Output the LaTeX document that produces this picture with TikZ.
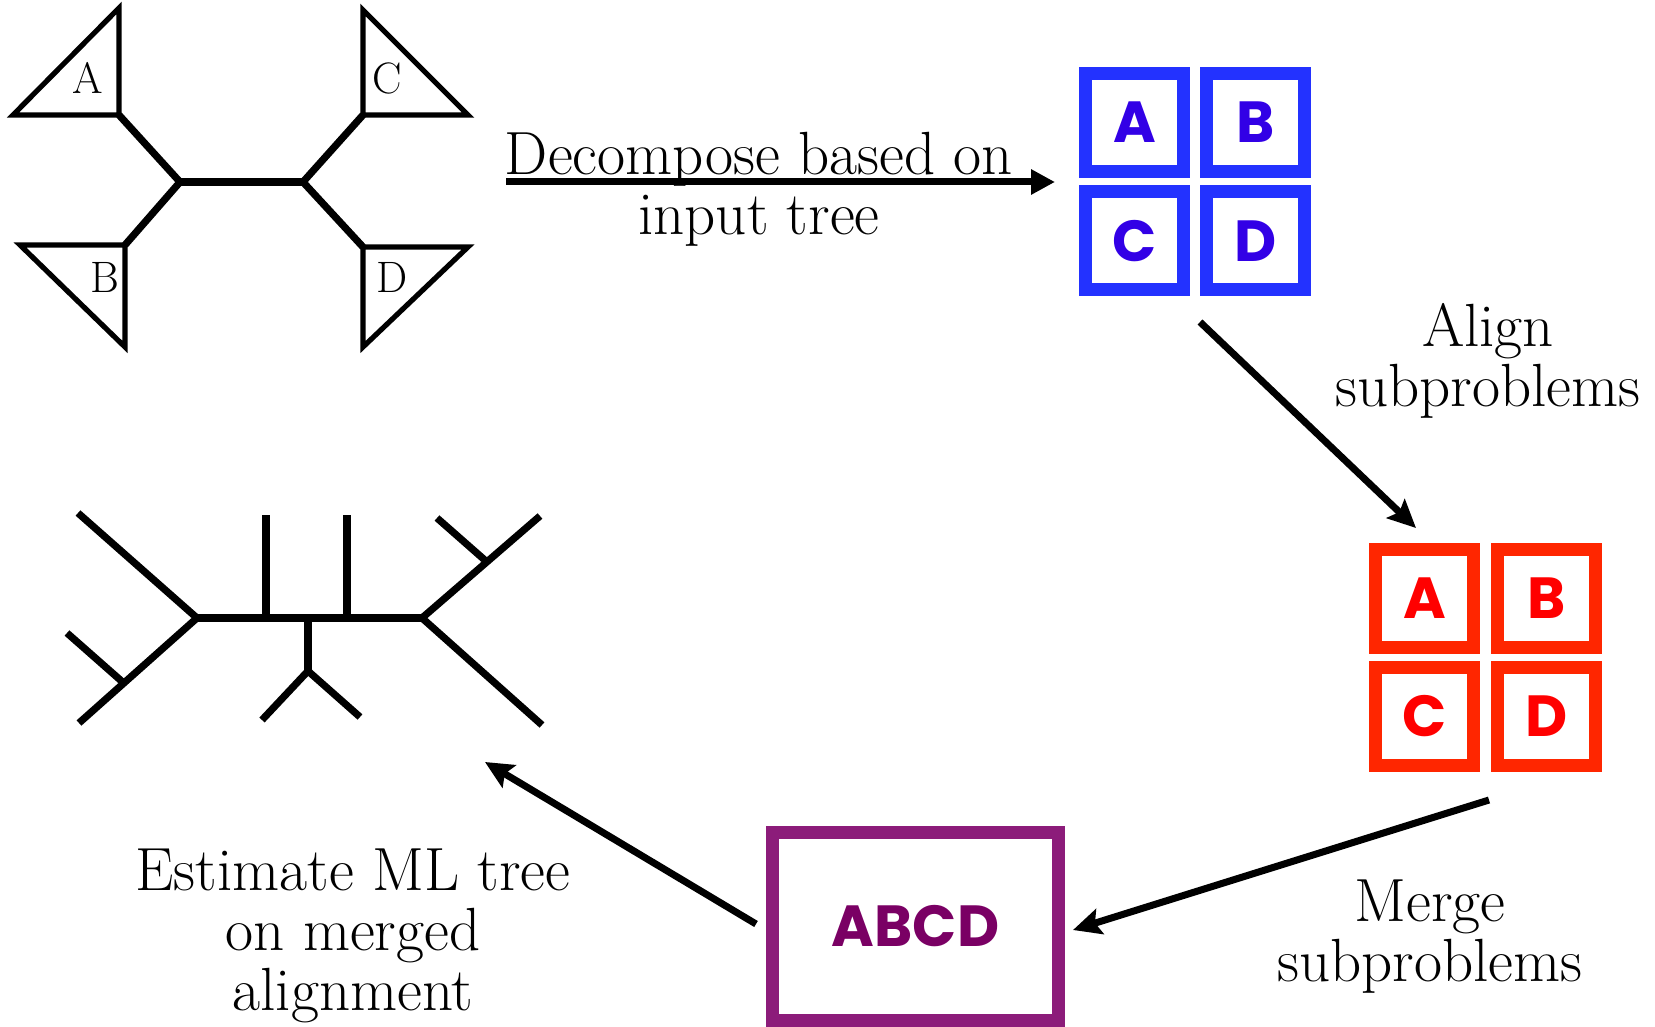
\documentclass[tikz,border=0pt]{standalone}
\usepackage{fontspec}
\newfontfamily\boxfont{Poppins}
\usetikzlibrary{arrows.meta,calc}
\definecolor{bstroke}{RGB}{35,50,255}
\definecolor{btext}{RGB}{50,0,230}
\definecolor{rstroke}{RGB}{255,38,0}
\definecolor{rtext}{RGB}{255,0,0}
\definecolor{pstroke}{RGB}{140,28,122}
\definecolor{ptext}{RGB}{122,0,100}
\tikzset{
  tri/.style={line width=2.6pt, line join=miter},
  branch/.style={line width=3.6pt, line join=miter},
  trilabel/.style={font=\fontsize{22}{22}\selectfont, inner sep=0pt},
  cell/.style={draw, line width=6.5pt, minimum size=49pt, inner sep=0pt, outer sep=0pt,
    font=\boxfont\bfseries\fontsize{29}{29}\selectfont},
  bluecell/.style={cell, draw=bstroke, text=btext},
  redcell/.style={cell, draw=rstroke, text=rtext},
  caption/.style={align=center, anchor=base, inner sep=0pt, font=\fontsize{30.5}{30}\selectfont},
  flow/.style={line width=3.5pt, -{Stealth[length=14pt,width=13pt,inset=2.5pt]}},
}
\begin{document}
\begin{tikzpicture}[x=0.5pt,y=-0.5pt]
\useasboundingbox (0,0) rectangle (1655,1027);
% ---- input tree with subtrees A-D
\draw[tri] (13,115) -- (119,8) -- (119,115) -- cycle;
\draw[tri] (363,10) -- (363,115) -- (468,115) -- cycle;
\draw[tri] (20,245) -- (125,245) -- (125,347) -- cycle;
\draw[tri] (363,247) -- (468,247) -- (363,347) -- cycle;
\coordinate (ta) at (119,115);
\coordinate (tb) at (125,245);
\coordinate (tc) at (363,115);
\coordinate (td) at (363,247);
\coordinate (tl) at (180,182);
\coordinate (tr) at (303,182);
\draw[branch] (ta) -- (tl) -- (tb);
\draw[branch] (tl) -- (tr);
\draw[branch] (tc) -- (tr) -- (td);
\node[trilabel] (la) at (88,78) {A};
\node[trilabel] (lc) at (387,78) {C};
\node[trilabel] (lb) at (105,277) {B};
\node[trilabel] (ld) at (392,277) {D};
% ---- decompose arrow
\coordinate (d1) at (506,182);
\coordinate (d2) at (1055,182);
\draw[line width=3.5pt, -{Triangle[length=12pt,width=12pt]}] (d1) -- (d2);
\node[caption] (tdec) at (759,235) {Decompose based on\\input tree};
% ---- blue subproblems
\node[bluecell] (bA) at (1134.5,122.5) {A};
\node[bluecell] (bB) at (1255.5,122.5) {B};
\node[bluecell] (bC) at (1134.5,241) {C};
\node[bluecell] (bD) at (1255.5,241) {D};
% ---- align arrow
\coordinate (a1) at (1200,322);
\coordinate (a2) at (1416,528);
\draw[flow] (a1) -- (a2);
\node[caption] (tal) at (1488,406) {Align\\subproblems};
% ---- red aligned subproblems
\node[redcell] (rA) at (1424.5,598) {A};
\node[redcell] (rB) at (1546.5,598) {B};
\node[redcell] (rC) at (1424.5,716.5) {C};
\node[redcell] (rD) at (1546.5,716.5) {D};
% ---- merge arrow
\coordinate (m1) at (1489,800);
\coordinate (m2) at (1073,930);
\draw[flow] (m1) -- (m2);
\node[caption] (tme) at (1430,981) {Merge\\subproblems};
% ---- merged alignment
\node[draw=pstroke, text=ptext, line width=6.5pt, minimum width=143pt, minimum height=94pt,
  inner sep=0pt, font=\boxfont\bfseries\fontsize{29}{29}\selectfont] (abcd) at (915.5,926.5) {ABCD};
% ---- estimate arrow
\coordinate (e1) at (756,924);
\coordinate (e2) at (485,762);
\draw[flow] (e1) -- (e2);
\node[caption] (tes) at (353,1010) {Estimate ML tree\\on merged\\alignment};
% ---- output ML tree
\coordinate (L) at (197,618);
\coordinate (R) at (422,618);
\coordinate (lu) at (78,513);
\coordinate (ld2) at (79,723);
\coordinate (ls) at (67,633);
\coordinate (v1b) at (266,618);
\coordinate (v1t) at (266,515);
\coordinate (v2b) at (347,618);
\coordinate (v2t) at (347,515);
\coordinate (m0) at (308,618);
\coordinate (mn) at (308,671);
\coordinate (mnl) at (262,720);
\coordinate (mnr) at (360,717);
\coordinate (ru) at (540,516);
\coordinate (rd) at (542,725);
\coordinate (rs) at (437,518);
\draw[branch] (lu) -- (L) -- (ld2);
\draw[branch] (ls) -- ($(L)!0.62!(ld2)$);
\draw[branch] (L) -- (R);
\draw[branch] (v1b) -- (v1t);
\draw[branch] (v2b) -- (v2t);
\draw[branch] (m0) -- (mn);
\draw[branch] (mnl) -- (mn) -- (mnr);
\draw[branch] (ru) -- (R) -- (rd);
\draw[branch] (rs) -- ($(R)!0.55!(ru)$);
\end{tikzpicture}
\end{document}
